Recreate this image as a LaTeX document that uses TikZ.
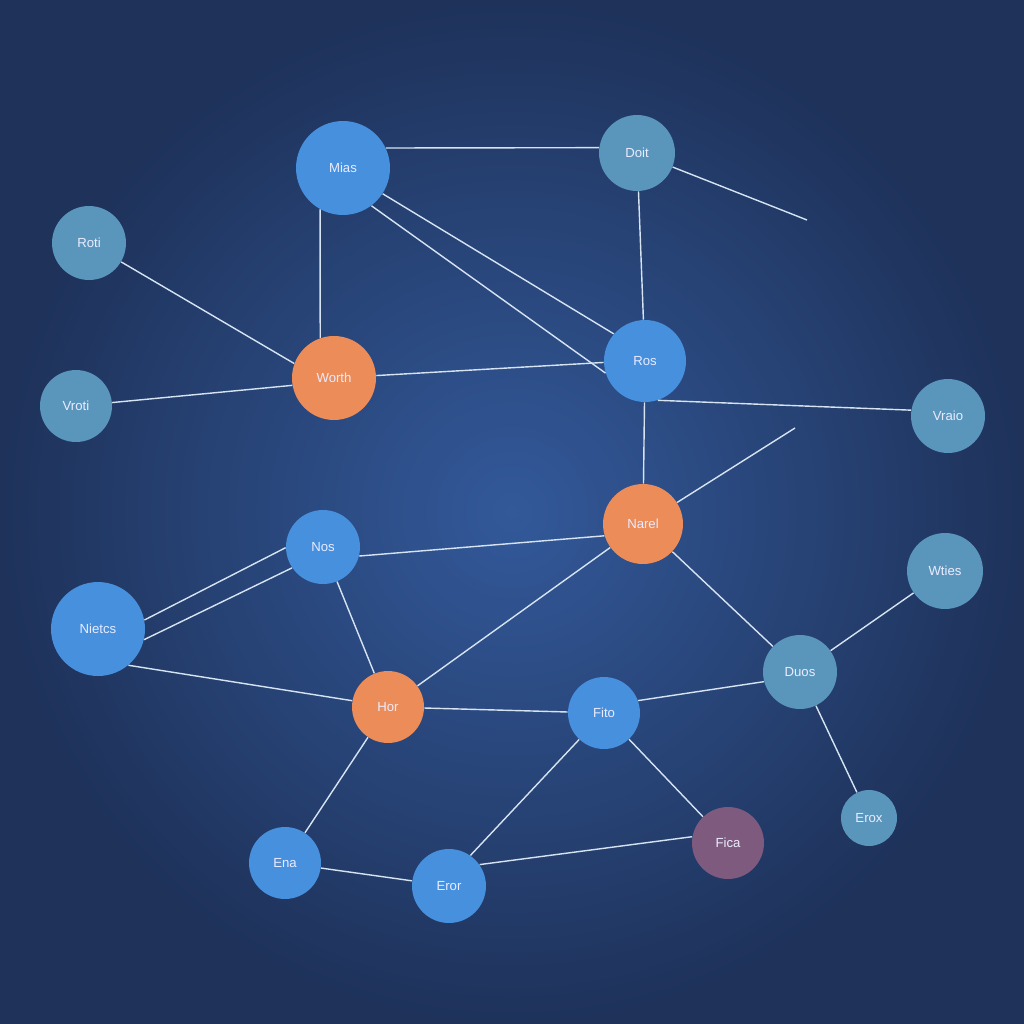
\documentclass[tikz,border=0pt]{standalone}
\usepackage{fontspec}
\setmainfont{Liberation Sans}
\begin{document}
\begin{tikzpicture}[x=0.02cm,y=-0.02cm,
  nd/.style={circle, inner sep=0pt, minimum size=#1*0.04cm, text=white!92!blue, font=\fontsize{7.5}{9}\selectfont},
  bnode/.style={nd=#1, fill=blueA},
  tnode/.style={nd=#1, fill=tealA},
  onode/.style={nd=#1, fill=orangeA},
  pnode/.style={nd=#1, fill=purpleA},
  link/.style={draw=lineA, line width=0.8pt}]
\definecolor{bgIn}{HTML}{33599A}
\definecolor{bgOut}{HTML}{1E325A}
\definecolor{blueA}{HTML}{4690DE}
\definecolor{tealA}{HTML}{5A96BB}
\definecolor{orangeA}{HTML}{EC8C58}
\definecolor{purpleA}{HTML}{7E5B7E}
\definecolor{lineA}{HTML}{D6E4F2}
\shade[inner color=bgIn, outer color=bgOut] (0,0) rectangle (1024,1024);
\useasboundingbox (0,0) rectangle (1024,1024);

\node[bnode=47] (Mias) at (343,168) {Mias};
\node[tnode=38] (Doit) at (637,153) {Doit};
\node[tnode=37] (Roti) at (89,243) {Roti};
\node[onode=42] (Worth) at (334,378) {Worth};
\node[tnode=36] (Vroti) at (76,406) {Vroti};
\node[bnode=41] (Ros) at (645,361) {Ros};
\node[tnode=37] (Vraio) at (948,416) {Vraio};
\node[onode=40] (Nard) at (643,524) {Narel};
\node[bnode=37] (Nos) at (323,547) {Nos};
\node[tnode=38] (Wties) at (945,571) {Wties};
\node[bnode=47] (Nieros) at (98,629) {Nietcs};
\node[tnode=37] (Duos) at (800,672) {Duos};
\node[onode=36] (Hor) at (388,707) {Hor};
\node[bnode=36] (Fito) at (604,713) {Fito};
\node[bnode=36] (Ena) at (285,863) {Ena};
\node[bnode=37] (Eror) at (449,886) {Eror};
\node[pnode=36] (Fica) at (728,843) {Fica};
\node[tnode=28] (Erox) at (869,818) {Erox};

\coordinate (freeA) at (807,220);
\coordinate (freeB) at (795,428);

\path[link] (Mias.25) -- (Doit.172);
\path[link] (Doit) -- (freeA);
\path[link] (Doit) -- (Ros);
\path[link] (Mias.-119) -- (Worth.109);
\path[link] (Mias.-33) -- (Ros.139);
\path[link] (Mias.-53) -- (Ros.197);
\path[link] (Roti) -- (Worth.160);
\path[link] (Vroti) -- (Worth.190);
\path[link] (Worth) -- (Ros.182);
\path[link] (Ros.-72) -- (Vraio.171);
\path[link] (Ros) -- (Nard);
\path[link] (Nard) -- (freeB);
\path[link] (Nos.-14) -- (Nard.197);
\path[link] (Nieros.11) -- (Nos.181);
\path[link] (Nieros.-13) -- (Nos.214);
\path[link] (Nieros.-50) -- (Hor.170);
\path[link] (Nos) -- (Hor);
\path[link] (Hor) -- (Nard);
\path[link] (Hor) -- (Fito);
\path[link] (Nard) -- (Duos);
\path[link] (Duos) -- (Wties);
\path[link] (Duos.195) -- (Fito.20);
\path[link] (Duos) -- (Erox);
\path[link] (Hor) -- (Ena);
\path[link] (Ena) -- (Eror);
\path[link] (Fito) -- (Eror.55);
\path[link] (Eror.35) -- (Fica.170);
\path[link] (Fito) -- (Fica);
\end{tikzpicture}
\end{document}
